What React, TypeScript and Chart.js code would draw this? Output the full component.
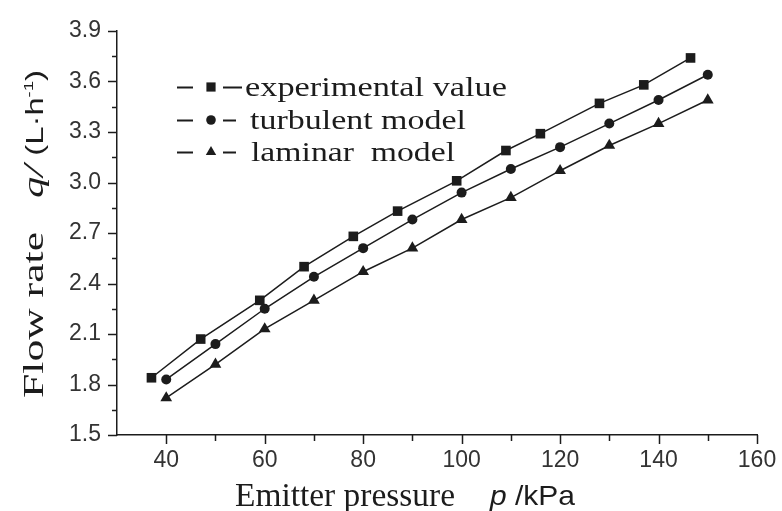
import { useEffect, useRef } from "react";
import { Chart, registerables } from "chart.js";

Chart.register(...registerables);

// ---- data ----
const pressureExp = [37, 47, 59, 68, 78, 87, 99, 109, 116, 128, 137, 146.5];
const flowExp = [1.84, 2.07, 2.3, 2.5, 2.68, 2.83, 3.01, 3.19, 3.29, 3.47, 3.58, 3.74];
const pressureModel = [40, 50, 60, 70, 80, 90, 100, 110, 120, 130, 140, 150];
const flowTurbulent = [1.83, 2.04, 2.25, 2.44, 2.61, 2.78, 2.94, 3.08, 3.21, 3.35, 3.49, 3.64];
const flowLaminar = [1.72, 1.92, 2.13, 2.3, 2.47, 2.61, 2.78, 2.91, 3.07, 3.22, 3.35, 3.49];

const xMajorTicks = [40, 60, 80, 100, 120, 140, 160];
const xMinorTicks = [50, 70, 90, 110, 130, 150];
const yMajorTicks = [1.5, 1.8, 2.1, 2.4, 2.7, 3.0, 3.3, 3.6, 3.9];
const yMinorTicks = [1.65, 1.95, 2.25, 2.55, 2.85, 3.15, 3.45, 3.75];

const seriesNames = ["experimental value", "turbulent model", "laminar  model"];
const seriesMarkers = ["rect", "circle", "triangle"];

const xTitleMain = "Emitter pressure";
const xTitleSym = "p";
const xTitleUnit = " /kPa";
const yTitleMain = "Flow rate";
const yTitleSym = "q/";
const yTitleUnit = " (L\u00b7h";
const yTitleSup = "-1";
const yTitleClose = ")";

const INK = "#1c1c1c";
const SERIF = '"Liberation Serif", "Times New Roman", serif';
const SANS = '"Liberation Sans", Arial, sans-serif';

type Seg = { text: string; font: string; dy?: number };

function drawRun(ctx: CanvasRenderingContext2D, segs: Seg[], length: number) {
  const widths = segs.map((s) => {
    ctx.font = s.font;
    return ctx.measureText(s.text).width;
  });
  const total = widths.reduce((a, b) => a + b, 0);
  ctx.save();
  ctx.scale(length / total, 1);
  let x = 0;
  segs.forEach((s, i) => {
    ctx.font = s.font;
    ctx.fillText(s.text, x, s.dy || 0);
    x += widths[i];
  });
  ctx.restore();
}

function drawMarker(ctx: CanvasRenderingContext2D, kind: string, x: number, y: number, r: number) {
  ctx.beginPath();
  if (kind === "rect") {
    const s = r * Math.SQRT1_2;
    ctx.rect(x - s, y - s, 2 * s, 2 * s);
  } else if (kind === "circle") {
    ctx.arc(x, y, r, 0, Math.PI * 2);
  } else {
    const h = r;
    ctx.moveTo(x, y - h);
    ctx.lineTo(x + h * 0.866, y + h * 0.5);
    ctx.lineTo(x - h * 0.866, y + h * 0.5);
    ctx.closePath();
  }
  ctx.fill();
}

const tickPlugin = {
  id: "manualTicks",
  afterDraw(chart: any) {
    const ctx: CanvasRenderingContext2D = chart.ctx;
    const xs = chart.scales.x;
    const ys = chart.scales.y;
    const area = chart.chartArea;
    ctx.save();
    ctx.strokeStyle = INK;
    ctx.lineWidth = 1.5;
    ctx.beginPath();
    xMajorTicks.forEach((v) => {
      const px = Math.round(xs.getPixelForValue(v)) + 0.5;
      ctx.moveTo(px, area.bottom);
      ctx.lineTo(px, area.bottom + 9);
    });
    xMinorTicks.forEach((v) => {
      const px = Math.round(xs.getPixelForValue(v)) + 0.5;
      ctx.moveTo(px, area.bottom);
      ctx.lineTo(px, area.bottom + 6);
    });
    yMajorTicks.forEach((v) => {
      const py = Math.round(ys.getPixelForValue(v)) + 0.5;
      ctx.moveTo(area.left, py);
      ctx.lineTo(area.left - 9, py);
    });
    yMinorTicks.forEach((v) => {
      const py = Math.round(ys.getPixelForValue(v)) + 0.5;
      ctx.moveTo(area.left, py);
      ctx.lineTo(area.left - 5, py);
    });
    ctx.stroke();
    ctx.restore();
  },
};

const textPlugin = {
  id: "titlesAndLegend",
  afterDraw(chart: any) {
    const ctx: CanvasRenderingContext2D = chart.ctx;
    ctx.save();
    ctx.fillStyle = INK;
    ctx.textBaseline = "alphabetic";
    ctx.textAlign = "left";

    // x-axis title
    ctx.save();
    ctx.translate(235, 506);
    drawRun(ctx, [{ text: xTitleMain, font: `33px ${SERIF}` }], 220);
    ctx.restore();
    ctx.save();
    ctx.translate(490, 505);
    drawRun(
      ctx,
      [
        { text: xTitleSym, font: `italic 28px ${SANS}` },
        { text: xTitleUnit, font: `28px ${SANS}` },
      ],
      85
    );
    ctx.restore();

    // y-axis title (rotated)
    ctx.save();
    ctx.translate(43, 398);
    ctx.rotate(-Math.PI / 2);
    drawRun(ctx, [{ text: yTitleMain, font: `30px ${SERIF}` }], 166);
    ctx.restore();
    ctx.save();
    ctx.translate(43, 198);
    ctx.rotate(-Math.PI / 2);
    drawRun(
      ctx,
      [
        { text: yTitleSym, font: `italic 30px ${SERIF}` },
        { text: yTitleUnit, font: `23px ${SANS}` },
        { text: yTitleSup, font: `13px ${SANS}`, dy: -10 },
        { text: yTitleClose, font: `23px ${SANS}` },
      ],
      128
    );
    ctx.restore();

    // legend
    const rowsY = [87, 120, 152];
    const textStart = [245, 250, 251];
    const textEnd = [507, 466, 455];
    const rightDashEnd = [242, 236, 236];
    const radii = [6.5, 4.8, 6.0];
    seriesNames.forEach((name, i) => {
      const y = rowsY[i];
      ctx.strokeStyle = INK;
      ctx.lineWidth = 2;
      ctx.beginPath();
      ctx.moveTo(177, y + 0.5);
      ctx.lineTo(193, y + 0.5);
      ctx.moveTo(223, y + 0.5);
      ctx.lineTo(rightDashEnd[i], y + 0.5);
      ctx.stroke();
      drawMarker(ctx, seriesMarkers[i], 211, y, radii[i]);
      ctx.save();
      ctx.translate(textStart[i], y + 9);
      drawRun(ctx, [{ text: name, font: `28px ${SERIF}` }], textEnd[i] - textStart[i]);
      ctx.restore();
    });
    ctx.restore();
  },
};

export default function App() {
  const canvasRef = useRef<HTMLCanvasElement | null>(null);

  useEffect(() => {
    const canvas = canvasRef.current;
    if (!canvas) return;
    const toPoints = (xs: number[], ys: number[]) => xs.map((x, i) => ({ x, y: ys[i] }));
    const common = {
      borderColor: INK,
      backgroundColor: INK,
      pointBackgroundColor: INK,
      pointBorderColor: INK,
      borderWidth: 1.5,
      pointBorderWidth: 0,
      tension: 0,
      fill: false,
    };
    const chart = new Chart(canvas, {
      type: "line",
      data: {
        datasets: [
          {
            ...common,
            label: seriesNames[0],
            data: toPoints(pressureExp, flowExp),
            pointStyle: seriesMarkers[0] as any,
            pointRadius: 6.8,
          },
          {
            ...common,
            label: seriesNames[1],
            data: toPoints(pressureModel, flowTurbulent),
            pointStyle: seriesMarkers[1] as any,
            pointRadius: 5,
          },
          {
            ...common,
            label: seriesNames[2],
            data: toPoints(pressureModel, flowLaminar),
            pointStyle: seriesMarkers[2] as any,
            pointRadius: 6.8,
          },
        ],
      },
      options: {
        animation: false,
        responsive: false,
        maintainAspectRatio: false,
        events: [],
        layout: { padding: { top: 31, right: 25, left: 0, bottom: 0 } },
        plugins: {
          legend: { display: false },
          tooltip: { enabled: false },
          title: { display: false },
        },
        scales: {
          x: {
            type: "linear",
            min: 30,
            max: 160,
            afterBuildTicks: (scale: any) => {
              scale.ticks = xMajorTicks.map((v) => ({ value: v }));
            },
            afterFit: (scale: any) => {
              scale.height = 76;
            },
            grid: { display: false, drawTicks: true, tickLength: 9 },
            border: { display: true, color: INK, width: 1.5 },
            ticks: {
              color: "#333",
              padding: 3,
              maxRotation: 0,
              autoSkip: false,
              font: { family: SANS, size: 23 },
              callback: (v: any) => String(v),
            },
          },
          y: {
            type: "linear",
            min: 1.5,
            max: 3.9,
            afterBuildTicks: (scale: any) => {
              scale.ticks = yMajorTicks.map((v) => ({ value: v }));
            },
            afterFit: (scale: any) => {
              scale.width = 117;
            },
            grid: { display: false, drawTicks: true, tickLength: 9 },
            border: { display: true, color: INK, width: 1.5 },
            ticks: {
              color: "#333",
              padding: 7,
              autoSkip: false,
              font: { family: SANS, size: 23 },
              callback: (v: any) => Number(v).toFixed(1),
            },
          },
        },
      },
      plugins: [tickPlugin, textPlugin],
    } as any);
    return () => chart.destroy();
  }, []);

  return (
    <div style={{ position: "absolute", left: 0, top: 0, width: 782, height: 511, background: "#fff" }}>
      <canvas ref={canvasRef} width={782} height={511} style={{ display: "block" }} />
    </div>
  );
}
